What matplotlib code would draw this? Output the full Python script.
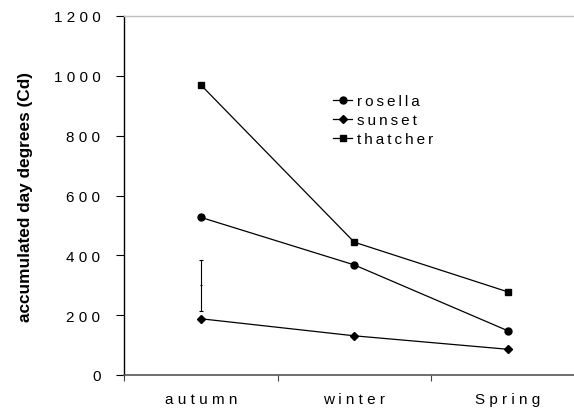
import numpy as np
import matplotlib.pyplot as plt

seasons = ['autumn', 'winter', 'Spring']
rosella = [527, 368, 148]
sunset = [188, 131, 86]
thatcher = [970, 444, 278]

# single error bar drawn beside the autumn points
err_mean = 300
err_half = 85

yticks = [0, 200, 400, 600, 800, 1000, 1200]


def spaced(s, gap=' '):
    # wide letter spacing, as in the original spreadsheet chart
    return gap.join(s)


plt.rcParams['font.family'] = ['Liberation Sans', 'DejaVu Sans']

fig = plt.figure(figsize=(5.74, 4.10), dpi=100)
ax = fig.add_axes([124 / 574, 34 / 410, 460.5 / 574, 359 / 410])

x = np.arange(len(seasons))
thin = '\u2009'
ax.plot(x, rosella, color='black', lw=0.9, marker='o', ms=5, label=spaced('rosella', thin))
ax.plot(x, sunset, color='black', lw=0.9, marker='D', ms=3.6, label=spaced('sunset', thin))
ax.plot(x, thatcher, color='black', lw=0.9, marker='s', ms=5, label=spaced('thatcher', thin))
ax.errorbar([0], [err_mean], yerr=[err_half], fmt='_', color='black',
            ms=2, mew=0.8, elinewidth=0.8, capsize=1.6, capthick=0.8)

ax.set_xlim(-0.5, 2.5)
ax.set_ylim(0, 1200)

# ticks on the category boundaries, labels on the centres
ax.set_xticks([-0.5, 0.5, 1.5, 2.5])
ax.set_xticklabels([])
ax.set_xticks(x, minor=True)
ax.set_xticklabels([spaced(s) for s in seasons], minor=True, fontsize=11)
ax.tick_params(axis='x', which='major', direction='out', length=4, width=0.8, color='#444444')
ax.tick_params(axis='x', which='minor', length=0, pad=12)

ax.set_yticks(yticks)
ax.set_yticklabels([spaced(str(v)) for v in yticks], fontsize=11)
ax.tick_params(axis='y', direction='out', length=6, width=0.8, pad=11)

ax.spines['right'].set_visible(False)
ax.spines['top'].set_color('#c0c0c0')
ax.spines['top'].set_linewidth(1.0)
ax.spines['left'].set_color('black')
ax.spines['left'].set_linewidth(1.0)
ax.spines['bottom'].set_color('#555555')
ax.spines['bottom'].set_linewidth(1.2)

ax.set_ylabel('accumulated day degrees (Cd)', fontsize=12.4, fontweight='bold', labelpad=15)

ax.legend(loc='upper left', bbox_to_anchor=(0.4406, 0.80), frameon=False, fontsize=11,
          handlelength=1.27, handletextpad=0.33, labelspacing=0.33, borderaxespad=0)

fig.savefig('out.png', dpi=100)
